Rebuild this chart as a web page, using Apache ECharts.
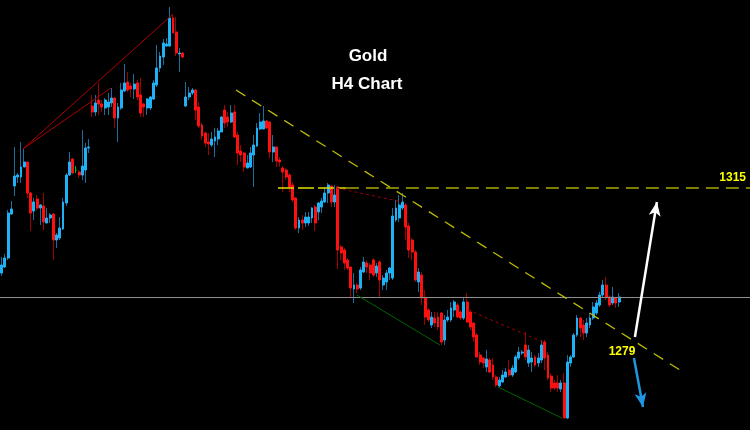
<!DOCTYPE html>
<html><head><meta charset="utf-8">
<script src="https://cdn.jsdelivr.net/npm/echarts@6/dist/echarts.min.js"></script>
<style>html,body{margin:0;padding:0;background:#000}#c{width:750px;height:430px}</style>
</head><body><div id="c"></div>
<script>
// ---- Candle data (Gold H4) ----
const openP=[1293.75,1295.25,1297.5,1308.5,1315.5,1317.75,1317.75,1320.25,1321.5,1313.75,
1309.25,1312.25,1310,1310.5,1306.25,1307.5,1308.5,1302,1302.5,1304.75,
1311.25,1318.25,1322.25,1319.5,1319,1318.25,1319.5,1325,1335.5,1334,
1337,1336,1335,1335.25,1336.25,1337.5,1332.5,1335,1339.25,1341.5,
1340.5,1339.75,1341.25,1338.25,1336,1335,1335,1337.25,1340.75,1345,
1347.75,1350.5,1350.5,1357.5,1354,1348.5,1348.75,1335.5,1337.75,1338.75,
1339.5,1335.25,1330.75,1328.75,1326.5,1325.75,1326.75,1327.25,1329,1334.5,
1332.75,1331.5,1334,1328.25,1324.25,1323.75,1320,1320.25,1323.25,1325.5,
1329.75,1329.75,1331.75,1331.5,1324,1325.25,1322,1320,1319.5,1318.25,
1315.75,1312.5,1305,1307,1306.25,1306.25,1307.5,1310.25,1309,1310.25,
1311.5,1313.75,1315.5,1311.5,1315.25,1300.25,1299.5,1297,1295.25,1289.75,
1290.75,1290,1294,1296.25,1295.75,1297,1293.75,1296.5,1290.75,1291.5,
1293.75,1292.5,1307,1307.5,1310,1310.75,1305.5,1302,1299,1291.5,
1293.25,1287.5,1284.5,1280.75,1282.5,1282.75,1283.75,1277,1282,1282,
1284.5,1285.75,1284,1282.5,1286.5,1284,1281.25,1278.25,1273.25,1272.5,
1270.25,1272,1270.75,1267.75,1265.5,1266.5,1267.75,1269.5,1268.25,1269,
1272.5,1273.75,1275.75,1271.25,1271.5,1272.75,1271.25,1272,1276.5,1273.25,
1268,1266.25,1266.25,1264.75,1266.25,1257.5,1271.25,1272.75,1278.25,1282.5,
1280.75,1278.75,1280.75,1282.5,1283.75,1285.75,1288.25,1290.75,1287.75,1286.25,
1287.5,1286.5];
const closeP=[1295.75,1297.5,1308.75,1309.75,1318,1318.25,1320.25,1321.5,1313.75,1308.75,
1311.5,1310,1310.75,1306.5,1307.5,1308.25,1302,1303.25,1305,1311.5,
1318.25,1321.5,1318.75,1319.5,1318.25,1320.5,1325,1325.25,1334,1336.25,
1336,1335.25,1337,1336.5,1337.5,1332.5,1335.25,1339.5,1341.25,1339.5,
1339.75,1341,1337.75,1333.75,1335.25,1337.25,1337.75,1341.25,1345,1348,
1351.25,1351,1357.5,1353.75,1348.75,1348.75,1347.75,1337.75,1338.75,1339.5,
1334.5,1330.5,1328,1326.25,1326,1327.25,1327.75,1329.25,1332.75,1331.25,
1331.5,1333.75,1327.75,1323.75,1323.25,1320.25,1321.25,1323.75,1325.75,1330,
1331.5,1331.75,1330,1324,1325.25,1321.75,1321.5,1319,1317.75,1315.25,
1312,1305,1307,1306.25,1307.75,1307.75,1310,1306.25,1311.25,1311.75,
1313.75,1315.75,1311.5,1313.25,1299.5,1298.75,1296.25,1295,1290,1290.75,
1289.75,1294.5,1296.5,1295.25,1293.75,1293.25,1295.5,1292,1292.5,1293.75,
1295,1308,1310,1310.75,1311.5,1305.25,1299.5,1299,1292,1294,
1287.5,1282.75,1282,1282.75,1281.25,1280.25,1276.5,1282,1282.75,1285,
1286.5,1282.75,1282.5,1286.5,1281.5,1280.25,1277.75,1272.75,1271.5,1271.25,
1272.25,1269,1267.75,1265.75,1267,1268.25,1269,1268.25,1270,1272.75,
1274,1274,1272.75,1274.5,1272.5,1270.75,1272.5,1275.75,1272.5,1267.5,
1265,1265,1265,1266.25,1257.5,1271.5,1272.75,1278.25,1282.5,1280,
1278.75,1281.25,1282.5,1285.25,1286.25,1288.25,1290.75,1287.75,1285.75,1287.75,
1286.25,1287.75];
const lowP=[1293,1295,1297,1308.25,1313,1316.25,1316.25,1320.25,1312.5,1304.25,
1307,1309.5,1305.75,1304.5,1306.25,1306.25,1297,1300,1302,1304.5,
1310.5,1318,1318.5,1318.75,1317.5,1317,1316.25,1323.75,1332.75,1333,
1333.25,1334,1333.25,1333.25,1335.25,1330,1326.5,1334.5,1339,1339,
1337.75,1337.25,1337,1332.75,1332.75,1333.25,1334.5,1337,1340.25,1344,
1345.75,1350.25,1350.25,1353.75,1348,1344,1347.5,1335.25,1337,1338.25,
1332,1330,1327,1325.25,1323.25,1325.25,1322.75,1325.75,1329,1330,
1330.25,1331.25,1327.5,1320.75,1321.5,1319,1320,1320,1315.25,1325.25,
1329.5,1329.75,1329.75,1322.5,1321.5,1320.25,1320.25,1314,1317,1314,
1311.5,1304.5,1303.75,1304.5,1305.25,1305.5,1306.25,1304.25,1307,1308.75,
1311.25,1311.25,1310.25,1310.25,1294.75,1297,1294.5,1294.5,1287.5,1286.25,
1288.75,1289.5,1293.75,1293.75,1292,1292.75,1292.75,1287.75,1289.5,1289.5,
1292,1292,1306.5,1306.5,1309.5,1302,1297.5,1297,1291.5,1289,
1285.75,1280.75,1281.5,1280,1280.25,1279.5,1275.75,1275.75,1281.5,1281.5,
1282.75,1282.5,1282,1282,1281.25,1279.5,1276.5,1272.5,1270.75,1270,
1269,1268.75,1267,1265.25,1265.25,1266.25,1267.5,1267.75,1267.75,1268.75,
1272,1273.25,1272,1270.25,1269,1270.25,1270.25,1271.25,1269.5,1267,
1264,1264.5,1264,1264,1257.5,1257.25,1270.25,1272.5,1277.75,1277.75,
1277,1277.75,1280,1282,1283.25,1285.25,1287.75,1287,1285.25,1285.75,
1285,1285.25];
const highP=[1297.75,1298.5,1309.5,1311.75,1325.25,1318.75,1326.5,1324.75,1321.5,1314,
1312.5,1313.25,1311,1313.75,1310,1308.75,1308.75,1303.75,1307.75,1312.5,
1318.75,1324,1322.5,1320.5,1319.5,1329.5,1326.25,1327.25,1338.25,1338.25,
1341.25,1337,1337.5,1338.75,1340,1337.75,1336.25,1341.25,1346,1344,
1341.25,1343.5,1342,1342.5,1336.25,1337.5,1338,1342,1350.75,1349,
1352.25,1352.5,1360.25,1358.5,1357.75,1350,1349,1341.5,1340.25,1340,
1339.75,1336.5,1331.25,1329,1328.75,1329,1330,1330,1333,1335.75,
1334,1335.75,1335.75,1329,1325.75,1324,1323.25,1325.25,1328.25,1331.25,
1333.75,1335.5,1332,1331.75,1328.25,1325.5,1322.75,1320.5,1320,1318.75,
1316.5,1312.75,1307.75,1308.25,1309,1309,1310.25,1310.75,1311.5,1312.5,
1315.25,1316.25,1315.75,1315.75,1315.5,1300.75,1300,1297.5,1295.25,1293.75,
1291.25,1295.25,1297.75,1297,1296.25,1297.5,1296.25,1297,1293.25,1294.5,
1295.25,1310,1312,1313.25,1313.75,1311.25,1306.25,1302.5,1299.5,1295,
1294,1289.5,1285,1284,1284,1284,1284,1283.25,1284.5,1286.5,
1287,1286.25,1284.5,1287.5,1288.75,1284.5,1281.5,1278.75,1274,1272.75,
1274.5,1272.5,1272.5,1268.25,1267.75,1269.5,1270,1272,1270.75,1273.25,
1275.25,1274.5,1279,1275.75,1274,1273.25,1273.75,1277,1277,1274,
1268.75,1267,1268.25,1267,1268.75,1273.25,1273.25,1278.75,1283.25,1282.75,
1282,1282.5,1283.75,1286.5,1287,1289,1292,1292.75,1288.25,1290.25,
1287.5,1288.75];

// time slots on the x axis (candles + empty space on the right)
const slotCount = 232;
const categories = Array.from({length: slotCount}, (_, i) => 'H4 #' + (i + 1));

// ---- Drawn analysis lines: [barIndex, price] ----
const redTrendA = [[6.6, 1324.75], [52.7, 1358.25]];
const redTrendB = [[6.6, 1324.75], [33.8, 1340]];
const yellowDown = [[72.5, 1339.5], [210.8, 1269]];
const level1315 = 1315;
const level1315Start = 85.5, level1315Split = 106.5;
const redDot1 = [[103.7, 1315], [123.9, 1311.5]];
const redDot2 = [[144.3, 1284.5], [167.5, 1276.5]];
const green1 = [[109.9, 1288.25], [135.6, 1275.75]];
const green2 = [[153.5, 1265.25], [173.3, 1257.5]];
const whiteArrow = [[195.9, 1277.75], [202.7, 1311.5]];
const blueArrow = [[195.6, 1272.5], [198.4, 1260.25]];
const lastPrice = closeP[closeP.length - 1];
const label1279 = '1279';
const yMin = 1254.5, yMax = 1362;

const wickData = openP.map((o, i) => [o, closeP[i], lowP[i], highP[i]]);
const bodyData = openP.map((o, i) => [o, closeP[i], Math.min(o, closeP[i]), Math.max(o, closeP[i])]);

function seg(pts, style, endExtra) {
  return [{coord: pts[0], symbol: 'none', lineStyle: style},
          Object.assign({coord: pts[1], symbol: 'none'}, endExtra || {})];
}

const chart = echarts.init(document.getElementById('c'), null, {renderer: 'canvas'});
chart.setOption({
  backgroundColor: '#000',
  animation: false,
  grid: {left: 0, right: 0, top: 0, bottom: 0},
  xAxis: [
    {type: 'category', data: categories, boundaryGap: true, show: false},
    {type: 'value', min: -0.5, max: slotCount - 0.5, show: false}
  ],
  yAxis: {type: 'value', min: yMin, max: yMax, show: false, splitLine: {show: false}},
  graphic: [
    {type: 'text', x: 368, y: 56, style: {text: 'Gold', fill: '#fff', font: 'bold 17px Arial, "Liberation Sans", sans-serif', align: 'center', verticalAlign: 'middle', textAlign: 'center', textVerticalAlign: 'middle'}},
    {type: 'text', x: 367, y: 84, style: {text: 'H4 Chart', fill: '#fff', font: 'bold 17px Arial, "Liberation Sans", sans-serif', align: 'center', verticalAlign: 'middle', textAlign: 'center', textVerticalAlign: 'middle'}},
    {type: 'text', x: 622, y: 352, style: {text: label1279, fill: '#ffff00', font: 'bold 12px Arial, "Liberation Sans", sans-serif', align: 'center', verticalAlign: 'middle', textAlign: 'center', textVerticalAlign: 'middle'}}
  ],
  series: [
    {
      type: 'line', xAxisIndex: 1, data: [], silent: true,
      markLine: {
        silent: true, symbol: ['none', 'none'], animation: false,
        label: {show: false},
        emphasis: {disabled: true},
        data: [
          {yAxis: lastPrice, lineStyle: {color: '#8e8e8e', width: 1, type: 'solid'}},
          seg(redTrendA, {color: '#b00000', width: 1, type: 'solid'}),
          seg(redTrendB, {color: '#b00000', width: 1, type: 'solid'}),
          seg(yellowDown, {color: '#bdbd00', width: 1.3, type: [11, 8]}),
          seg([[level1315Start, level1315], [level1315Split, level1315]], {color: '#e0e000', width: 1.5, type: [16, 4]}),
          seg([[level1315Split, level1315], [slotCount - 0.5, level1315]], {color: '#a8a800', width: 1.5, type: [13, 7]},
              {label: {show: true, position: 'insideEndTop', formatter: String(level1315), color: '#ffff00', fontWeight: 'bold', fontSize: 12, fontFamily: 'Arial', distance: [4, 4]}}),
          seg(redDot1, {color: '#a00000', width: 1, type: [3, 3]}),
          seg(redDot2, {color: '#a00000', width: 1, type: [3, 3]}),
          seg(green1, {color: '#006400', width: 1, type: 'solid'}),
          seg(green2, {color: '#006400', width: 1, type: 'solid'}),
          seg(whiteArrow, {color: '#ffffff', width: 2.5, type: 'solid'}, {symbol: 'arrow', symbolSize: [9, 14]}),
          seg(blueArrow, {color: '#1e96e0', width: 2.5, type: 'solid'}, {symbol: 'arrow', symbolSize: [9, 14]})
        ]
      }
    },
    {
      type: 'candlestick', name: 'wick', data: wickData, barWidth: 1, silent: true,
      itemStyle: {color: '#1a6e9e', color0: '#a00000', borderColor: '#1a6e9e', borderColor0: '#a00000', borderColorDoji: '#00c000', borderWidth: 1}
    },
    {
      type: 'candlestick', name: 'body', data: bodyData, barWidth: 2.4, silent: true,
      itemStyle: {color: '#1eb2f5', color0: '#ff1010', borderColor: '#1eb2f5', borderColor0: '#ff1010', borderColorDoji: '#00c000', borderWidth: 1}
    }
  ]
});
</script></body></html>
